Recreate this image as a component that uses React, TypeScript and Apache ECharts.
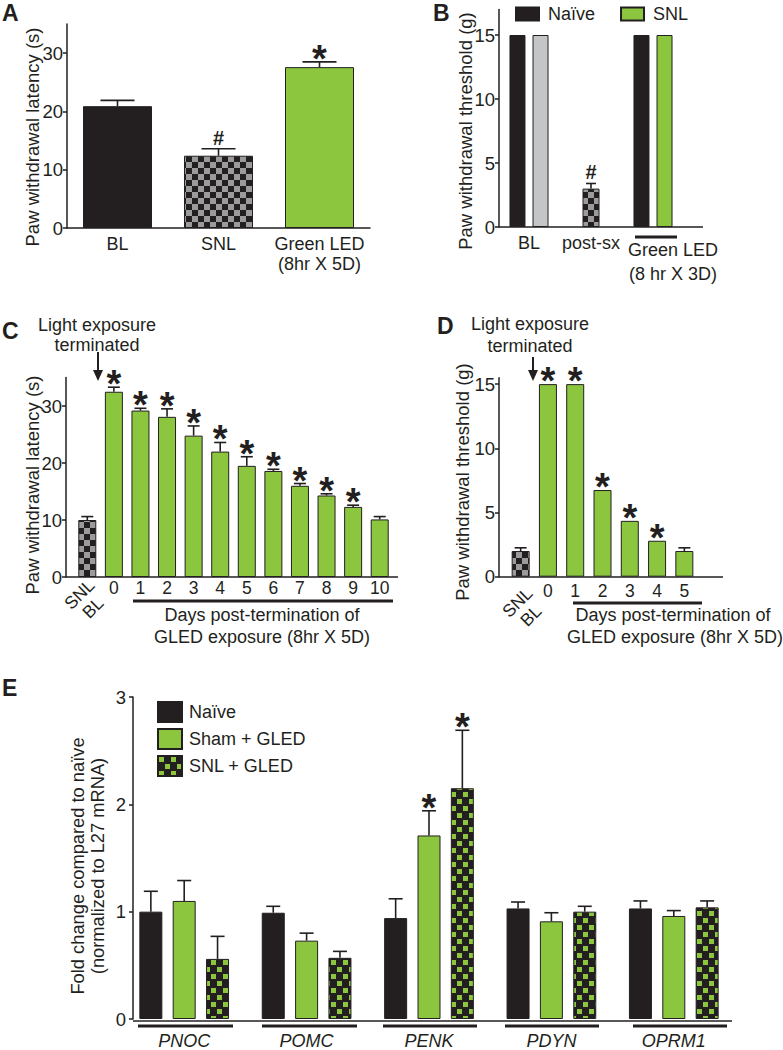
import React, { useEffect, useRef } from 'react';
import * as echarts from 'echarts';

const FONT = '"Liberation Sans", Arial, Helvetica, sans-serif';
const GREEN = '#8cc63f';
const BLACK = '#231f20';
const LIGHTGRAY = '#c4c5c7';
const CHECKGRAY = '#9b9b9b';

// ---------- Panel A ----------
const aCats = ['BL', 'SNL', 'Green LED\n(8hr X 5D)'];
const aMeans = [20.9, 12.4, 27.6];
const aErrs = [1.0, 1.2, 0.9];
const aMarks = ['', '#', '*'];
const aTicks = [0, 10, 20, 30];

// ---------- Panel B ----------
const bCats = ['BL', 'post-sx', 'Green LED\n(8 hr X 3D)'];
const bNaive = [15, null, 15];
const bSnl = [15, null, 15];
const bPost = [null, 3.0, null];
const bPostErr = [0, 0.4, 0];
const bMarks = ['', '#', ''];
const bTicks = [0, 5, 10, 15];

// ---------- Panel C ----------
const cCats = ['SNL\nBL', '0', '1', '2', '3', '4', '5', '6', '7', '8', '9', '10'];
const cMeans = [10.0, 32.5, 29.2, 28.1, 24.8, 22.0, 19.5, 18.6, 16.0, 14.3, 12.3, 10.1];
const cErrs = [0.6, 0.8, 0.4, 1.4, 1.7, 1.6, 1.6, 0.3, 0.4, 0.3, 0.3, 0.5];
const cMarks = ['', '*', '*', '*', '*', '*', '*', '*', '*', '*', '*', ''];
const cTicks = [0, 10, 20, 30];

// ---------- Panel D ----------
const dCats = ['SNL\nBL', '0', '1', '2', '3', '4', '5'];
const dMeans = [2.0, 15, 15, 6.75, 4.35, 2.8, 2.0];
const dErrs = [0.25, 0, 0, 0, 0, 0, 0.25];
const dMarks = ['', '*', '*', '*', '*', '*', ''];
const dTicks = [0, 5, 10, 15];

// ---------- Panel E ----------
const eCats = ['PNOC', 'POMC', 'PENK', 'PDYN', 'OPRM1'];
const eNaive = [1.0, 0.99, 0.94, 1.03, 1.03];
const eNaiveErr = [0.19, 0.06, 0.18, 0.06, 0.07];
const eSham = [1.1, 0.73, 1.71, 0.91, 0.96];
const eShamErr = [0.19, 0.07, 0.23, 0.08, 0.05];
const eSnl = [0.56, 0.57, 2.15, 1.0, 1.04];
const eSnlErr = [0.21, 0.06, 0.54, 0.05, 0.06];
const eNaiveMarks = ['', '', '', '', ''];
const eShamMarks = ['', '', '*', '', ''];
const eSnlMarks = ['', '', '*', '', ''];
const eTicks = [0, 1, 2, 3];

function tile(kind: string): any {
  const c = document.createElement('canvas');
  const ctx = c.getContext('2d') as CanvasRenderingContext2D;
  if (kind === 'gray') {
    c.width = 12; c.height = 12;
    ctx.fillStyle = BLACK; ctx.fillRect(0, 0, 12, 12);
    ctx.fillStyle = CHECKGRAY; ctx.fillRect(0, 0, 6, 6); ctx.fillRect(6, 6, 6, 6);
  } else {
    c.width = 12; c.height = 14;
    ctx.fillStyle = BLACK; ctx.fillRect(0, 0, 12, 14);
    ctx.fillStyle = GREEN; ctx.fillRect(1, 1, 5, 5); ctx.fillRect(7, 8, 5, 5);
  }
  return { image: c, repeat: 'repeat', imageWidth: c.width, imageHeight: c.height };
}

function errorSeries(xi: number, yi: number, means: any[], errs: number[], marks: string[], offset: number, capHalf: number) {
  return {
    type: 'custom', xAxisIndex: xi, yAxisIndex: yi, silent: true, z: 5, clip: false,
    data: means.map((m, i) => [i, m == null ? 0 : m, m == null ? 0 : errs[i]]),
    renderItem: (params: any, api: any) => {
      const i = api.value(0), m = api.value(1), e = api.value(2);
      if (means[params.dataIndex] == null) return null;
      const p0 = api.coord([i, m]);
      const p1 = api.coord([i, m + e]);
      const x = p0[0] + offset;
      const ls = { stroke: BLACK, lineWidth: 1.6 };
      const children: any[] = [];
      if (e > 0) {
        children.push({ type: 'line', shape: { x1: x, y1: p0[1], x2: x, y2: p1[1] }, style: ls });
        children.push({ type: 'line', shape: { x1: x - capHalf, y1: p1[1], x2: x + capHalf, y2: p1[1] }, style: ls });
      }
      const mk = marks[params.dataIndex];
      if (mk === '*') {
        children.push({ type: 'text', x, y: p1[1] - 3, style: { text: '*', fontSize: 38, fontWeight: 'bold', fontFamily: FONT, fill: BLACK, align: 'center', verticalAlign: 'middle' } });
      } else if (mk === '#') {
        children.push({ type: 'text', x, y: p1[1] - 11, style: { text: '#', fontSize: 20, fontWeight: 'bold', fontFamily: FONT, fill: BLACK, align: 'center', verticalAlign: 'middle' } });
      }
      return { type: 'group', children };
    },
  };
}

function yAx(gridIndex: number, max: number, ticks: number[], margin: number, offset = 0) {
  return {
    type: 'value', gridIndex, min: 0, max, offset,
    axisLine: { show: true, lineStyle: { color: BLACK, width: 1.5 } },
    axisTick: { show: true, length: 4, lineStyle: { color: BLACK, width: 1.5 }, customValues: ticks },
    axisLabel: { customValues: ticks, fontSize: 18.5, fontFamily: FONT, color: BLACK, margin },
    splitLine: { show: false },
  };
}

function xAx(gridIndex: number, data: string[], lineShow: boolean, label: any, show = true) {
  return {
    type: 'category', gridIndex, data, show,
    axisLine: { show: lineShow, onZero: false, lineStyle: { color: BLACK, width: 1.5 } },
    axisTick: { show: false },
    axisLabel: Object.assign({ interval: 0, fontSize: 18, fontFamily: FONT, color: BLACK }, label),
    splitLine: { show: false },
  };
}

function txt(x: number, y: number, text: string, o: any = {}) {
  const align = o.align || 'center';
  return {
    type: 'text', x, y, rotation: o.rotation || 0, silent: true,
    style: {
      text, fontSize: o.size || 18, fontFamily: FONT, fontWeight: o.weight || 'normal',
      fontStyle: o.fstyle || 'normal', fill: BLACK, align, verticalAlign: 'middle',
      textAlign: align, textVerticalAlign: 'middle', lineHeight: o.lh || 20,
    },
  };
}
function ln(x1: number, y1: number, x2: number, y2: number, w = 1.5) {
  return { type: 'line', silent: true, shape: { x1, y1, x2, y2 }, style: { stroke: BLACK, lineWidth: w } };
}
function arrow(x: number, y0: number, y1: number) {
  return [
    ln(x, y0, x, y1 - 9, 2),
    { type: 'polygon', silent: true, shape: { points: [[x - 5, y1 - 11], [x + 5, y1 - 11], [x, y1]] }, style: { fill: BLACK } },
  ];
}

export default function App() {
  const ref = useRef<HTMLDivElement>(null);
  useEffect(() => {
    if (!ref.current) return;
    const chart = echarts.init(ref.current, undefined, { renderer: 'svg' });
    const grayChk = tile('gray');
    const greenChk = tile('green');
    const aFills = [BLACK, grayChk, GREEN];
    const bSnlFills = [LIGHTGRAY, LIGHTGRAY, GREEN];
    const barBase = { type: 'bar', itemStyle: { borderColor: BLACK, borderWidth: 1 } };
    const T = 18.5;

    const option: any = {
      animation: false,
      backgroundColor: '#ffffff',
      textStyle: { fontFamily: FONT },
      grid: [
        { left: 67, top: 24, width: 303, height: 204 },
        { left: 498, top: 9.4, width: 186, height: 217.6 },
        { left: 74, top: 377.5, width: 319, height: 199.5 },
        { left: 507, top: 377.7, width: 191, height: 199 },
        { left: 123, top: 697, width: 612, height: 324 },
      ],
      legend: [
        {
          data: ['Naïve', 'SNL'], left: 510, top: 0, itemWidth: 23, itemHeight: 13, itemGap: 25,
          selectedMode: false, icon: 'rect', textStyle: { fontSize: 18, fontFamily: FONT, color: BLACK, padding: [0, 0, 0, 4] },
        },
        {
          data: ['Naïve', 'Sham + GLED', 'SNL + GLED'], left: 152, top: 696, orient: 'vertical',
          itemWidth: 24, itemHeight: 20, itemGap: 5, selectedMode: false, icon: 'rect',
          textStyle: { fontSize: 18, fontFamily: FONT, color: BLACK, padding: [0, 0, 0, 2] },
        },
      ],
      xAxis: [
        xAx(0, aCats, true, { margin: 6, lineHeight: 20 }),
        xAx(1, bCats, false, {
          margin: 7,
          formatter: (v: string, i: number) => i === 2 ? v.split('\n').map((s, k) => `{${k === 0 ? 'g1' : 'g2'}|${s}}`).join('\n') : v,
          rich: {
            g1: { fontSize: 18, fontFamily: FONT, color: BLACK, padding: [0, 0, 0, 40], lineHeight: 32 },
            g2: { fontSize: 18, fontFamily: FONT, color: BLACK, padding: [0, 0, 0, 40], lineHeight: 16 },
          },
        }),
        xAx(1, bCats, false, {}, false),
        xAx(2, cCats, false, { margin: 1.5, fontSize: 17.5, formatter: (v: string, i: number) => (i === 0 ? '' : v) }),
        xAx(3, dCats, false, { margin: 5, fontSize: 17.5, formatter: (v: string, i: number) => (i === 0 ? '' : v) }),
        xAx(4, eCats, false, { margin: 13, fontStyle: 'italic' }),
      ],
      yAxis: [
        yAx(0, 35, aTicks, 4),
        yAx(1, 17, bTicks, 4, -1),
        yAx(2, 35, cTicks, 4, 8),
        yAx(3, 15.5, dTicks, 4, 8),
        yAx(4, 3, eTicks, 7, -10),
      ],
      series: [
        // A
        { ...barBase, name: 'A', xAxisIndex: 0, yAxisIndex: 0, barWidth: 69,
          data: aMeans.map((v, i) => ({ value: v, itemStyle: { color: aFills[i] } })) },
        errorSeries(0, 0, aMeans, aErrs, aMarks, 0, 17),
        // B
        { ...barBase, name: 'Naïve', xAxisIndex: 1, yAxisIndex: 1, barWidth: 16, barGap: '44%',
          itemStyle: { color: BLACK, borderColor: BLACK, borderWidth: 1 }, data: bNaive },
        { ...barBase, name: 'SNL', xAxisIndex: 1, yAxisIndex: 1, barWidth: 16, barGap: '44%',
          itemStyle: { color: GREEN, borderColor: BLACK, borderWidth: 1 },
          data: bSnl.map((v, i) => (v == null ? null : { value: v, itemStyle: { color: bSnlFills[i] } })) },
        { ...barBase, name: 'SNL post-sx', xAxisIndex: 2, yAxisIndex: 1, barWidth: 17,
          itemStyle: { color: grayChk, borderColor: BLACK, borderWidth: 1 }, data: bPost },
        errorSeries(2, 1, bPost, bPostErr, bMarks, 0, 5),
        // C
        { ...barBase, name: 'C', xAxisIndex: 3, yAxisIndex: 2, barWidth: 18,
          data: cMeans.map((v, i) => ({ value: v, itemStyle: { color: i === 0 ? grayChk : GREEN } })) },
        errorSeries(3, 2, cMeans, cErrs, cMarks, 0, 6),
        // D
        { ...barBase, name: 'D', xAxisIndex: 4, yAxisIndex: 3, barWidth: 18,
          data: dMeans.map((v, i) => ({ value: v, itemStyle: { color: i === 0 ? grayChk : GREEN } })) },
        errorSeries(4, 3, dMeans, dErrs, dMarks, 0, 6),
        // E
        { ...barBase, name: 'Naïve', xAxisIndex: 5, yAxisIndex: 4, barWidth: 23, barGap: '45%',
          itemStyle: { color: BLACK, borderColor: BLACK, borderWidth: 1 }, data: eNaive },
        { ...barBase, name: 'Sham + GLED', xAxisIndex: 5, yAxisIndex: 4, barWidth: 23, barGap: '45%',
          itemStyle: { color: GREEN, borderColor: BLACK, borderWidth: 1 }, data: eSham },
        { ...barBase, name: 'SNL + GLED', xAxisIndex: 5, yAxisIndex: 4, barWidth: 23, barGap: '45%',
          itemStyle: { color: greenChk, borderColor: BLACK, borderWidth: 1 }, data: eSnl },
        errorSeries(5, 4, eNaive, eNaiveErr, eNaiveMarks, -33.35, 7),
        errorSeries(5, 4, eSham, eShamErr, eShamMarks, 0, 7),
        errorSeries(5, 4, eSnl, eSnlErr, eSnlMarks, 33.35, 7),
      ],
      graphic: [
        // panel letters
        txt(2, 13, 'A', { size: 23, weight: 'bold', align: 'left' }),
        txt(433, 13, 'B', { size: 23, weight: 'bold', align: 'left' }),
        txt(2, 331, 'C', { size: 23, weight: 'bold', align: 'left' }),
        txt(437, 326, 'D', { size: 23, weight: 'bold', align: 'left' }),
        txt(2, 688, 'E', { size: 23, weight: 'bold', align: 'left' }),
        // y-axis titles
        txt(32.5, 137, 'Paw withdrawal latency (s)', { rotation: Math.PI / 2, size: T }),
        txt(465, 131, 'Paw withdrawal threshold (g)', { rotation: Math.PI / 2, size: T }),
        txt(32.5, 485, 'Paw withdrawal latency (s)', { rotation: Math.PI / 2, size: T }),
        txt(462, 482, 'Paw withdrawal threshold (g)', { rotation: Math.PI / 2, size: T }),
        txt(87, 866, 'Fold change compared to naïve\n(normalized to L27 mRNA)', { rotation: Math.PI / 2, lh: 20, size: 18.3 }),
        // baselines
        ln(499, 227, 703, 227),
        ln(66, 577, 398, 577),
        ln(499, 577, 723, 577),
        ln(133, 1021, 732, 1021),
        // B underline
        ln(635, 237, 677, 237, 3),
        // C annotations
        txt(97, 325, 'Light exposure', {}),
        txt(97, 345, 'terminated', {}),
        ...arrow(98, 352, 381),
        txt(86, 601, 'SNL\nBL', { rotation: Math.PI / 4, size: 17.5, lh: 19 }),
        ln(133, 601, 393, 601, 3),
        txt(262, 615, 'Days post-termination of', {}),
        txt(262, 637, 'GLED exposure (8hr X 5D)', {}),
        // D annotations
        txt(530, 324, 'Light exposure', {}),
        txt(530, 346, 'terminated', {}),
        ...arrow(533, 357, 381),
        txt(524, 609, 'SNL\nBL', { rotation: Math.PI / 4, size: 17.5, lh: 19 }),
        ln(573, 603, 702, 603, 3),
        txt(673, 615, 'Days post-termination of', {}),
        txt(675, 637, 'GLED exposure (8hr X 5D)', {}),
        // E group underlines
        ln(138, 1026, 233, 1026, 3),
        ln(262, 1026, 357, 1026, 3),
        ln(383, 1026, 477, 1026, 3),
        ln(505, 1026, 599, 1026, 3),
        ln(633, 1026, 727, 1026, 3),
      ],
    };
    chart.setOption(option);
    return () => chart.dispose();
  }, []);
  return <div ref={ref} style={{ position: 'absolute', left: 0, top: 0, width: 783, height: 1050 }} />;
}
